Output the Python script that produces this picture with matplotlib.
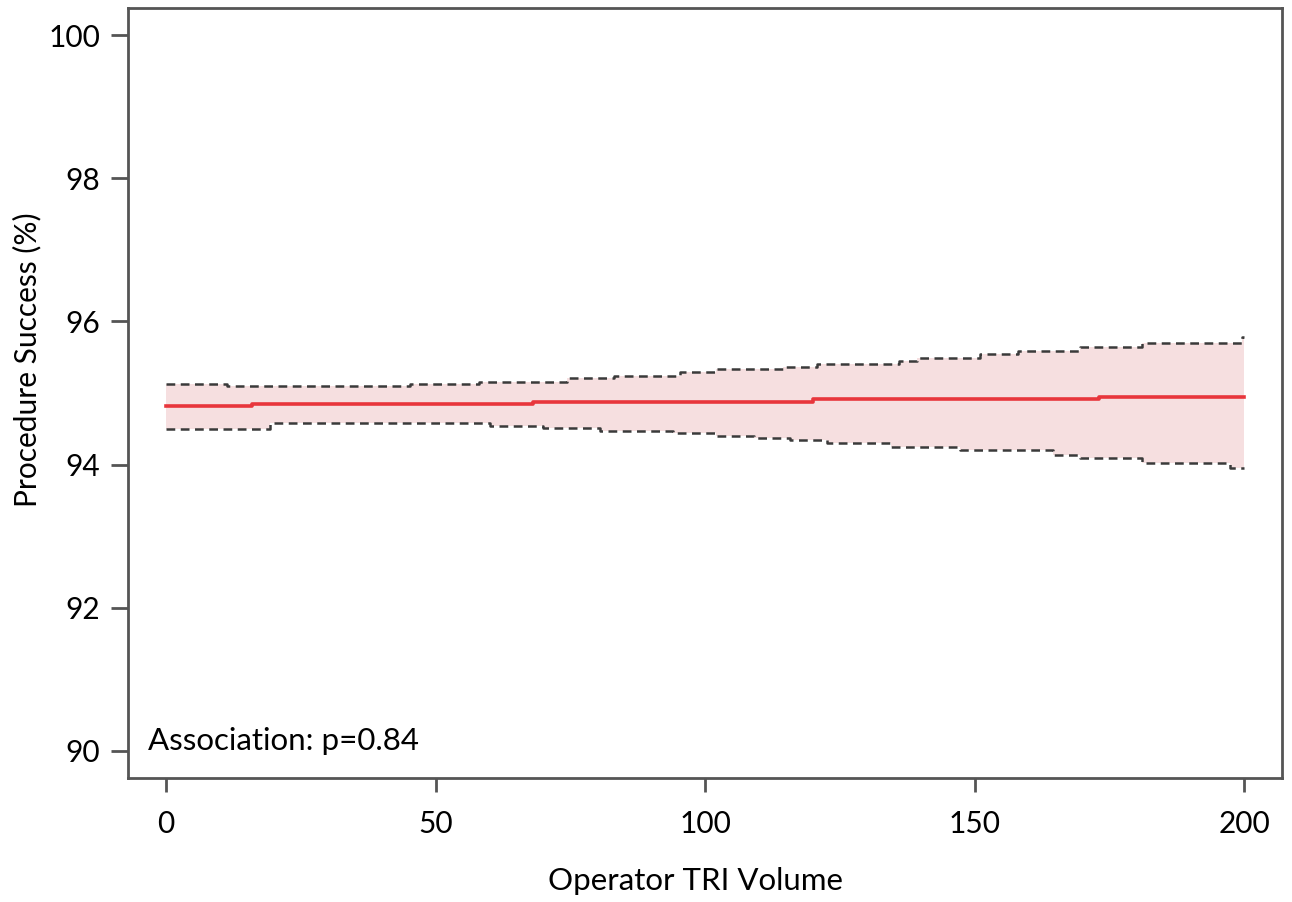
import matplotlib
matplotlib.use("Agg")
import matplotlib.pyplot as plt
import numpy as np

plt.rcParams['font.family'] = ['Lato', 'DejaVu Sans']

# Estimated fitted line (step function)
fit_x = [0, 16, 68, 120, 173, 200]
fit_y = [94.82, 94.85, 94.88, 94.91, 94.94, 94.94]

# Upper confidence bound (step function)
upper_x = [0, 11.3, 45.3, 58, 74.4, 83, 95.4, 102, 114.5, 120.8, 136, 139.3, 151, 158, 169.6, 181, 199.5, 200]
upper_y = [95.126, 95.098, 95.126, 95.15, 95.205, 95.237, 95.289, 95.33, 95.367, 95.41, 95.447, 95.49, 95.55, 95.59, 95.647, 95.70, 95.78, 95.78]

# Lower confidence bound (step function)
lower_x = [0, 19.3, 60, 70, 80.5, 94, 102, 109, 115.8, 122.6, 134.5, 147.3, 164.6, 169.6, 181, 197.4, 200]
lower_y = [94.497, 94.58, 94.543, 94.516, 94.474, 94.437, 94.404, 94.376, 94.344, 94.306, 94.25, 94.204, 94.134, 94.088, 94.027, 93.948, 93.948]

x_ticks = [0, 50, 100, 150, 200]
y_ticks = [90, 92, 94, 96, 98, 100]
annotation = "Association: p=0.84"

fig = plt.figure(figsize=(12.92, 9.02), dpi=100)
ax = fig.add_axes([0.0991, 0.1375, 0.8932, 0.8536])

grid = sorted(set(upper_x) | set(lower_x))
def step_val(xs, ys, g):
    idx = np.searchsorted(xs, g, side='right') - 1
    return [ys[i] for i in idx]
ug = step_val(upper_x, upper_y, grid)
lg = step_val(lower_x, lower_y, grid)
ax.fill_between(grid, lg, ug, step='post', color='#f6dfe0', linewidth=0, zorder=1)

ax.step(upper_x, upper_y, where='post', color='#3a3a3a', lw=1.8, ls=(0, (3.5, 2.2)), zorder=2)
ax.step(lower_x, lower_y, where='post', color='#3a3a3a', lw=1.8, ls=(0, (3.5, 2.2)), zorder=2)
ax.step(fit_x, fit_y, where='post', color='#e8363c', lw=2.6, zorder=3)

ax.set_xlim(-7.05, 207.0)
ax.set_ylim(89.62, 100.38)
ax.set_xticks(x_ticks)
ax.set_yticks(y_ticks)
ax.tick_params(axis='both', direction='out', colors='#555555', labelcolor='black', width=2)
ax.tick_params(axis='y', length=12, labelsize=21.5, pad=8)
ax.tick_params(axis='x', length=10, labelsize=21.5, pad=13)
for sp in ax.spines.values():
    sp.set_color('#555555')
    sp.set_linewidth(2)

fig.text(695/1292, 1 - 881/902, 'Operator TRI Volume', fontsize=22.5, ha='center', va='center')
fig.text(27/1292, 1 - 360/902, 'Procedure Success (%)', fontsize=21.5, ha='center', va='center', rotation=90)

ax.text(-3.3, 90.13, annotation, fontsize=22.5, ha='left', va='center', zorder=4)

fig.savefig('out.png', dpi=100)
